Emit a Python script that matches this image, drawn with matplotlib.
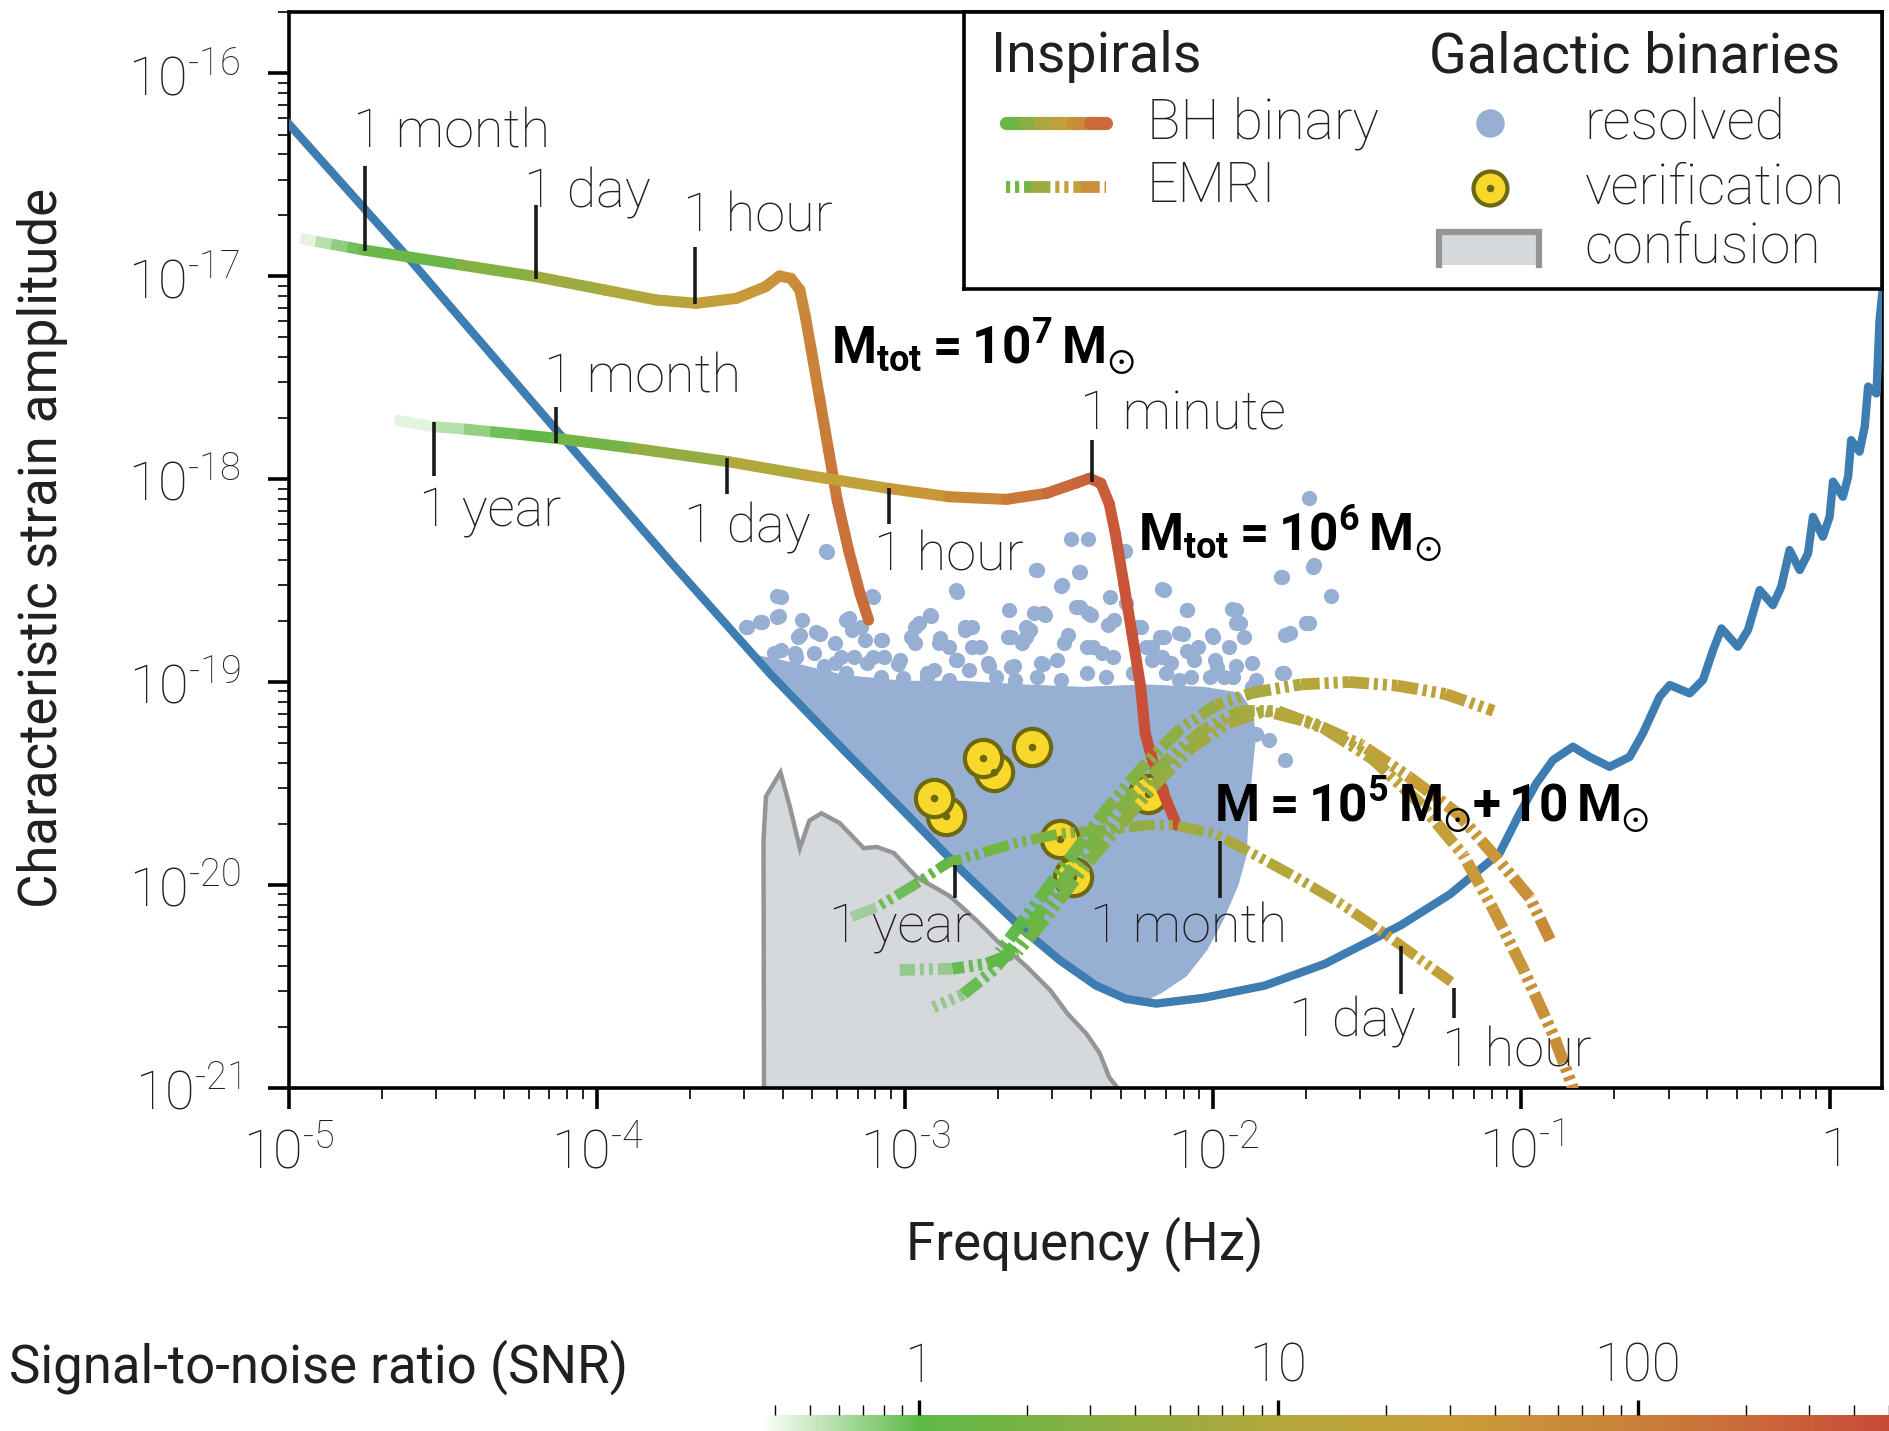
import numpy as np
import matplotlib
matplotlib.use("Agg")
import matplotlib.pyplot as plt
from matplotlib.collections import LineCollection
from matplotlib.colors import LinearSegmentedColormap, LogNorm, to_rgba
from matplotlib.cm import ScalarMappable
from matplotlib.ticker import LogLocator, NullFormatter
from matplotlib.patches import Rectangle

plt.rcParams['font.family'] = ['Roboto', 'DejaVu Sans']
plt.rcParams['mathtext.fontset'] = 'custom'
plt.rcParams['mathtext.rm'] = 'Roboto:light'
plt.rcParams['mathtext.bf'] = 'Roboto:bold'
plt.rcParams['mathtext.fallback'] = 'stixsans'
plt.rcParams['lines.scale_dashes'] = False
plt.rcParams['axes.unicode_minus'] = False

# ---------------- data (log10 of frequency [Hz] and characteristic strain) ----------------
noise_lf = [-5.000, -4.609, -4.132, -3.749, -3.436, -3.202, -2.967, -2.811, -2.615, -2.498,
            -2.381, -2.283, -2.185, -2.029, -1.833, -1.638, -1.392, -1.231, -1.071, -1.006,
            -0.952, -0.898, -0.833, -0.779, -0.714, -0.649, -0.606, -0.552, -0.519, -0.454,
            -0.411, -0.378, -0.351, -0.298, -0.265, -0.227, -0.184, -0.157, -0.130, -0.097,
            -0.070, -0.054, -0.022, 0.000, 0.011, 0.043, 0.060, 0.070, 0.097, 0.114,
            0.125, 0.152, 0.162, 0.180]
noise_lh = [-16.250, -16.915, -17.758, -18.429, -18.963, -19.331, -19.694, -19.937, -20.222, -20.371,
            -20.495, -20.561, -20.584, -20.555, -20.495, -20.388, -20.198, -20.044, -19.842, -19.647,
            -19.499, -19.384, -19.318, -19.368, -19.417, -19.368, -19.252, -19.072, -19.014, -19.055,
            -18.989, -18.841, -18.735, -18.825, -18.743, -18.546, -18.620, -18.530, -18.349, -18.447,
            -18.365, -18.185, -18.283, -18.185, -18.012, -18.086, -17.988, -17.807, -17.864, -17.741,
            -17.543, -17.577, -17.215, -16.950]

# dense part of the resolved galactic binaries
cloud_lf = [-3.495, -3.397, -3.202, -3.006, -2.811, -2.615, -2.420, -2.224, -2.029, -1.912,
            -1.873, -1.861, -1.873, -1.884, -1.892, -1.919, -1.970, -2.021, -2.087, -2.166,
            -2.224, -2.283, -2.381, -2.498, -2.615, -2.811, -2.967, -3.202, -3.436]
cloud_lh = [-18.862, -18.892, -18.963, -18.993, -18.993, -19.011, -19.023, -19.011, -19.023, -19.052,
            -19.141, -19.260, -19.438, -19.616, -19.854, -20.002, -20.181, -20.323, -20.450, -20.530,
            -20.575, -20.561, -20.495, -20.371, -20.222, -19.937, -19.694, -19.331, -18.963]

# individual resolved binaries around the dense part
dots_lf = [-3.256, -3.417, -3.108, -2.834, -2.576, -2.435, -2.494, -2.463, -2.408, -2.287,
           -2.166, -1.779, -1.673, -1.618, -1.700, -1.767, -2.087, -1.939, -1.927, -2.005,
           -2.099, -2.173, -2.248, -2.342, -2.408, -2.447, -2.553, -2.662, -2.596, -2.607,
           -2.666, -2.807, -2.916, -2.967, -2.889, -2.967, -3.077, -3.143, -3.182, -3.276,
           -3.342, -3.409, -3.464, -3.518, -3.425, -3.358, -3.264, -3.209, -3.104, -3.022,
           -2.928, -2.834, -2.783, -2.729, -2.646, -2.553, -2.486, -2.392, -2.326, -2.220,
           -2.166, -2.087, -1.994, -1.927, -1.966, -2.072, -2.154, -1.873, -1.771, -1.861,
           -1.818, -1.767, -1.900, -1.689,
           -3.515, -3.471, -3.415, -3.403, -3.335, -3.347, -3.291, -3.229, -3.192, -3.173,
           -3.130, -3.080, -3.403, -3.353, -3.297, -3.229, -3.167, -3.123, -3.068, -3.018,
           -2.981, -2.956, -2.919, -2.888, -2.857, -2.807, -2.782, -2.757, -2.832, -2.906,
           -2.794, -2.732, -2.658, -2.608, -2.583, -2.546, -2.620, -2.658, -2.558, -2.509,
           -2.471, -2.434, -2.397, -2.409, -2.360, -2.322, -2.335, -2.285, -2.235, -2.198,
           -2.161, -2.111, -2.086, -2.049, -2.000, -1.950, -1.925, -1.900, -1.913, -1.987,
           -2.062, -2.136, -2.198, -1.875, -1.776, -1.751, -1.689, -1.776, -2.161, -1.677,
           -2.490, -2.434, -2.571, -2.832, -3.254, -3.105, -3.440, -3.378, -3.316, -3.254,
           -3.192, -3.080, -3.006, -2.931, -2.857, -2.707, -2.645, -2.571, -2.496, -2.409,
           -2.347, -2.260, -2.111, -2.012, -1.937, -1.863]
dots_lh = [-18.352, -18.577, -18.577, -18.548, -18.447, -18.459, -18.524, -18.292, -18.292, -18.352,
           -18.542, -18.482, -18.423, -18.577, -18.708, -18.767, -18.643, -18.637, -18.708, -18.767,
           -18.761, -18.779, -18.726, -18.720, -18.660, -18.631, -18.660, -18.643, -18.744, -18.779,
           -18.779, -18.726, -18.672, -18.726, -18.809, -18.809, -18.791, -18.726, -18.684, -18.761,
           -18.767, -18.672, -18.702, -18.726, -18.856, -18.856, -18.922, -18.874, -18.874, -18.910,
           -18.957, -18.892, -18.827, -18.922, -18.922, -18.910, -18.809, -18.827, -18.874, -18.827,
           -18.874, -18.844, -18.892, -18.922, -18.975, -18.975, -18.957, -19.023, -18.957, -19.254,
           -19.284, -19.385, -19.355, -18.090,
           -18.727, -18.702, -18.677, -18.579, -18.694, -18.776, -18.751, -18.809, -18.694, -18.743,
           -18.792, -18.792, -18.842, -18.874, -18.858, -18.907, -18.874, -18.907, -18.874, -18.891,
           -18.776, -18.710, -18.669, -18.784, -18.825, -18.743, -18.727, -18.825, -18.891, -18.940,
           -18.940, -18.907, -18.776, -18.727, -18.661, -18.669, -18.809, -18.924, -18.907, -18.891,
           -18.768, -18.628, -18.669, -18.825, -18.858, -18.694, -18.579, -18.611, -18.727, -18.825,
           -18.776, -18.759, -18.644, -18.825, -18.776, -18.825, -18.644, -18.776, -18.710, -18.924,
           -18.891, -18.907, -18.891, -18.907, -18.957, -18.759, -18.710, -18.480, -18.546, -18.431,
           -18.521, -18.455, -18.447, -18.554, -18.357, -18.579, -18.924, -18.957, -18.989, -18.973,
           -18.957, -18.973, -18.981, -18.973, -18.989, -18.973, -18.989, -18.973, -18.989, -18.957,
           -18.973, -18.957, -18.989, -18.973, -18.973, -18.989]

# verification binaries (drawn in this order)
verif_lf = [-2.869, -2.908, -2.713, -2.748, -2.588, -2.498, -2.455, -2.213]
verif_lh = [-19.658, -19.569, -19.444, -19.373, -19.320, -19.771, -19.961, -19.551]

# unresolved galactic confusion foreground
conf_lf = [-3.458, -3.460, -3.452, -3.405, -3.374, -3.342, -3.311, -3.272, -3.213, -3.135,
           -3.092, -3.037, -2.963, -2.908, -2.854, -2.768, -2.693, -2.607, -2.529, -2.474,
           -2.412, -2.369, -2.338, -2.314, -2.300]
conf_lh = [-21.300, -19.777, -19.563, -19.444, -19.616, -19.818, -19.682, -19.646, -19.694, -19.818,
           -19.812, -19.842, -19.961, -20.008, -20.056, -20.175, -20.287, -20.400, -20.519, -20.632,
           -20.733, -20.828, -20.947, -20.994, -21.300]

# massive black hole binaries, M_tot = 1e7 and 1e6 Msun, with accumulated SNR
bh7_lf = [-4.963, -4.914, -4.863, -4.812, -4.758, -4.441, -4.199, -3.976, -3.808, -3.678,
          -3.547, -3.454, -3.408, -3.371, -3.342, -3.324, -3.305, -3.277, -3.249, -3.221,
          -3.184, -3.147, -3.119]
bh7_lh = [-16.812, -16.827, -16.841, -16.855, -16.870, -16.944, -17.001, -17.067, -17.116, -17.133,
          -17.108, -17.051, -16.998, -17.010, -17.067, -17.199, -17.363, -17.609, -17.856, -18.102,
          -18.349, -18.562, -18.694]
bh7_snr = [0.38, 0.5, 0.65, 0.82, 1.0, 2.0, 4, 7, 11, 18,
           28, 40, 50, 56, 62, 70, 85, 100, 120, 140,
           160, 180, 200]

bh6_lf = [-4.656, -4.535, -4.433, -4.348, -4.238, -4.134, -3.883, -3.575, -3.324, -3.054,
          -2.858, -2.672, -2.541, -2.448, -2.402, -2.365, -2.338, -2.318, -2.291, -2.264,
          -2.236, -2.221, -2.193, -2.166, -2.119]
bh6_lh = [-17.708, -17.740, -17.752, -17.765, -17.781, -17.798, -17.847, -17.913, -17.979, -18.045,
          -18.086, -18.099, -18.069, -18.020, -17.995, -18.020, -18.120, -18.268, -18.512, -18.761,
          -19.023, -19.254, -19.409, -19.533, -19.705]
bh6_snr = [0.37, 0.5, 0.65, 0.8, 1.0, 1.2, 2.5, 6, 13, 30,
           55, 100, 160, 220, 260, 290, 310, 330, 360, 390,
           410, 430, 440, 450, 460]

# extreme mass ratio inspirals, M = 1e5 + 10 Msun
emri1_lf = [-3.174, -3.092, -2.967, -2.862, -2.647, -2.498, -2.326, -2.221, -2.127, -1.994,
            -1.876, -1.732, -1.587, -1.443, -1.325, -1.228]
emri1_lh = [-20.157, -20.109, -19.996, -19.890, -19.795, -19.747, -19.723, -19.705, -19.705, -19.747,
            -19.842, -19.961, -20.091, -20.240, -20.371, -20.477]
emri1_snr = [0.45, 0.7, 1.1, 1.4, 2.0, 2.6, 3.4, 4.2, 5.2, 7, 9, 12, 15, 18, 21, 24]

emri2_lf = [-3.018, -2.846, -2.737, -2.635, -2.537, -2.420, -2.303, -2.185, -2.068, -1.951,
            -1.833, -1.677, -1.521, -1.364, -1.208, -1.071, -0.973, -0.907]
emri2_lh = [-20.418, -20.412, -20.388, -20.329, -20.151, -19.913, -19.705, -19.498, -19.319, -19.201,
            -19.141, -19.201, -19.308, -19.468, -19.646, -19.884, -20.062, -20.270]
emri2_snr = [0.5, 0.8, 1.1, 1.4, 1.8, 2.3, 3.0, 4.0, 5.5, 7, 9, 13, 18, 25, 35, 48, 60, 70]

emri3_lf = [-2.909, -2.811, -2.713, -2.615, -2.498, -2.381, -2.264, -2.146, -2.029, -1.912,
            -1.794, -1.638, -1.482, -1.325, -1.188, -1.091, -0.993, -0.895, -0.837, -0.817]
emri3_lh = [-20.602, -20.537, -20.418, -20.240, -20.002, -19.765, -19.557, -19.379, -19.230, -19.141,
            -19.141, -19.230, -19.379, -19.604, -19.854, -20.121, -20.418, -20.745, -20.982, -21.100]
emri3_snr = [0.5, 0.8, 1.0, 1.3, 1.7, 2.2, 3.0, 4.0, 5.0, 6.5, 8, 11, 15, 21, 29, 38, 48, 58, 65, 68]

emri4_lf = [-2.694, -2.576, -2.459, -2.342, -2.224, -2.107, -1.990, -1.873, -1.716, -1.560,
            -1.403, -1.247, -1.091]
emri4_lh = [-20.329, -20.091, -19.854, -19.616, -19.409, -19.230, -19.112, -19.052, -19.011, -18.999,
            -19.017, -19.058, -19.141]
emri4_snr = [0.8, 1.2, 1.7, 2.3, 3.0, 4.0, 5.5, 7, 10, 13, 17, 21, 25]

# time-to-merger marks
mark_lf = [-4.754, -4.199, -3.683, -4.531, -4.132, -3.577, -3.053, -2.393, -2.838, -1.978, -1.392, -1.220]
mark_lh0 = [-16.457, -16.647, -16.855, -17.716, -17.645, -17.894, -18.043, -17.805, -19.901, -19.783, -20.299, -20.507]
mark_lh1 = [-16.873, -17.015, -17.134, -17.983, -17.823, -18.072, -18.221, -18.013, -20.062, -20.062, -20.537, -20.656]
mark_text = ['1 month', '1 day', '1 hour', '1 year', '1 month', '1 day', '1 hour', '1 minute',
             '1 year', '1 month', '1 day', '1 hour']
mark_text_lf = [-4.793, -4.238, -3.722, -4.578, -4.171, -3.718, -3.100, -2.432, -3.249, -2.400, -1.755, -1.259]
mark_text_lh = [-16.291, -16.588, -16.707, -18.156, -17.502, -18.239, -18.375, -17.680, -20.210, -20.210, -20.673, -20.822]

mass_text = [r'$\mathbf{M}_{\mathbf{tot}}\mathbf{=10^{7}\,M}_{\odot}$',
             r'$\mathbf{M}_{\mathbf{tot}}\mathbf{=10^{6}\,M}_{\odot}$',
             r'$\mathbf{M=10^{5}\,M}_{\odot}\mathbf{+\,10\,M}_{\odot}$']
mass_lf = [-3.241, -2.244, -1.998]
mass_lh = [-17.348, -18.268, -19.604]

HY = '\u2010'
xtick_lf = [-5, -4, -3, -2, -1, 0]
xtick_labels = ['$10^{%s5}$' % HY, '$10^{%s4}$' % HY, '$10^{%s3}$' % HY,
                '$10^{%s2}$' % HY, '$10^{%s1}$' % HY, '$1$']
ytick_lh = [-21, -20, -19, -18, -17, -16]
ytick_labels = ['$10^{%s%d}$' % (HY, n) for n in (21, 20, 19, 18, 17, 16)]

snr_stops = [0.36, 1, 3.16, 10, 31.6, 100, 251, 500]
snr_colors = ['#5db94700', '#5db947', '#8aaf43', '#b3a73c', '#c99c38', '#c9803a', '#ca633a', '#c84a37']

# ---------------- styling ----------------
TXT = '#231f20'
NOISE = '#3d7db1'
GB = '#98afd4'

pos = (np.log10(snr_stops) - np.log10(snr_stops[0])) / (np.log10(snr_stops[-1]) - np.log10(snr_stops[0]))
cmap = LinearSegmentedColormap.from_list('snr', list(zip(pos, [to_rgba(c) for c in snr_colors])))
norm = LogNorm(snr_stops[0], snr_stops[-1])

E = lambda a: 10 ** np.asarray(a, dtype=float)

fig = plt.figure(figsize=(18.89, 14.31), dpi=100)
ax = fig.add_axes([0.15299, 0.23969, 0.8433, 0.75192])
ax.set_xscale('log')
ax.set_yscale('log')
ax.set_xlim(1e-5, 10 ** 0.17)
ax.set_ylim(1e-21, 10 ** -15.697)


def gradient_line(a, x, y, snr, lw, z):
    pts = np.column_stack([x, y])
    segs = np.stack([pts[:-1], pts[1:]], axis=1)
    snr = np.asarray(snr, dtype=float)
    mid = np.sqrt(snr[:-1] * snr[1:])
    faint = snr[:-1] < 1.0
    # faded start without round caps (no overlapping dots), the rest with round caps
    lc = LineCollection(segs[faint], colors=cmap(norm(mid[faint])), linewidths=lw,
                        capstyle='butt', zorder=z)
    a.add_collection(lc)
    lc = LineCollection(segs[~faint], colors=cmap(norm(mid[~faint])), linewidths=lw,
                        capstyle='round', zorder=z)
    a.add_collection(lc)


PATTERN = (19, 3.5, 3, 3.5, 3, 3.5)


def gradient_dashes(a, x, y, snr, lw, z, start=0.0):
    # dashed line whose colour follows the SNR; the dash phase runs on across pieces
    pix = a.transData.transform(np.column_stack([x, y]))
    seg = np.hypot(*np.diff(pix, axis=0).T) * 72.0 / fig.dpi
    snr = np.asarray(snr, dtype=float)
    off = start
    period = sum(PATTERN)
    for i in range(len(x) - 1):
        c = cmap(norm(np.sqrt(snr[i] * snr[i + 1])))
        a.plot(x[i:i + 2], y[i:i + 2], color=c, lw=lw, linestyle=(off % period, PATTERN),
               dash_capstyle='butt', zorder=z)
        off += seg[i]


# confusion foreground
ax.fill(E(conf_lf), E(conf_lh), facecolor='#d5d9dc', edgecolor='#959598', lw=3.2, zorder=1)

# resolved galactic binaries
ax.fill(E(cloud_lf), E(cloud_lh), color=GB, lw=0, zorder=2)
ax.scatter(E(dots_lf), E(dots_lh), s=120, color=GB, lw=0, zorder=2)

# verification binaries
for lf, lh in zip(verif_lf, verif_lh):
    ax.scatter(10 ** lf, 10 ** lh, s=720, facecolor='#f7d82b', edgecolor='#6d6812', lw=3, zorder=3)
ax.scatter(E(verif_lf), E(verif_lh), s=30, color='#6d6812', lw=0, zorder=3)

# LISA sensitivity
ax.plot(E(noise_lf), E(noise_lh), color=NOISE, lw=6, solid_joinstyle='round', zorder=4)

# black hole binaries
gradient_line(ax, E(bh7_lf), E(bh7_lh), bh7_snr, 8, 5)
gradient_line(ax, E(bh6_lf), E(bh6_lh), bh6_snr, 8, 5)

# EMRIs
gradient_dashes(ax, E(emri1_lf), E(emri1_lh), emri1_snr, 7.5, 6)
gradient_dashes(ax, E(emri2_lf), E(emri2_lh), emri2_snr, 8.5, 6, start=8)
gradient_dashes(ax, E(emri3_lf), E(emri3_lh), emri3_snr, 8.5, 6, start=16)
gradient_dashes(ax, E(emri4_lf), E(emri4_lh), emri4_snr, 8.5, 6, start=24)

# time marks
for lf, h0, h1 in zip(mark_lf, mark_lh0, mark_lh1):
    ax.plot([10 ** lf, 10 ** lf], [10 ** h0, 10 ** h1], color='#1a1a1a', lw=2.6,
            solid_capstyle='butt', zorder=7)
for t, lf, lh in zip(mark_text, mark_text_lf, mark_text_lh):
    ax.text(10 ** lf, 10 ** lh, t, ha='left', va='center', fontsize=39, fontweight='light',
            color=TXT, zorder=8)
for t, lf, lh in zip(mass_text, mass_lf, mass_lh):
    ax.text(10 ** lf, 10 ** lh, t, ha='left', va='center', fontsize=37, color='black', zorder=8)

# axes
ax.set_xticks(E(xtick_lf), xtick_labels)
ax.set_yticks(E(ytick_lh), ytick_labels)
ax.xaxis.set_minor_locator(LogLocator(base=10, subs=np.arange(2, 10), numticks=30))
ax.yaxis.set_minor_locator(LogLocator(base=10, subs=np.arange(2, 10), numticks=30))
ax.xaxis.set_minor_formatter(NullFormatter())
ax.yaxis.set_minor_formatter(NullFormatter())
ax.tick_params(which='major', direction='out', length=15, width=2.6, labelsize=39,
               labelcolor=TXT)
ax.tick_params(axis='x', which='major', pad=12)
ax.tick_params(axis='y', which='major', pad=20)
ax.tick_params(which='minor', direction='out', length=8, width=1.2)
for s in ax.spines.values():
    s.set_linewidth(2.6)

fig.text(0.0223, 0.617, 'Characteristic strain amplitude', rotation=90, ha='center', va='center',
         fontsize=38, color=TXT)
fig.text(0.574, 0.1305, 'Frequency (Hz)', ha='center', va='center', fontsize=38, color=TXT)
fig.text(0.005, 0.0446, 'Signal-to-noise ratio (SNR)', ha='left', va='center', fontsize=38, color=TXT)

# legend box
lax = fig.add_axes([0.5103, 0.79804, 0.48599, 0.19357])
lax.set_xlim(0, 1)
lax.set_ylim(0, 1)
lax.set_xticks([])
lax.set_yticks([])
for s in lax.spines.values():
    s.set_linewidth(2.6)
lax.text(0.029, 0.839, 'Inspirals', ha='left', va='center', fontsize=40, color=TXT)
lax.text(0.507, 0.839, 'Galactic binaries', ha='left', va='center', fontsize=40, color=TXT)
leg_u = np.linspace(0.046, 0.155, 7)
gradient_line(lax, leg_u, np.full(7, 0.6), [1, 2, 5, 12, 35, 100, 350], 9.5, 3)
gradient_dashes(lax, np.linspace(0.046, 0.155, 5), np.full(5, 0.37), [1, 3, 10, 30, 100], 8.5, 3,
                start=22.5)
lax.text(0.199, 0.6, 'BH binary', ha='left', va='center', fontsize=40, fontweight='light', color=TXT)
lax.text(0.199, 0.37, 'EMRI', ha='left', va='center', fontsize=40, fontweight='light', color=TXT)
lax.scatter([0.573], [0.6], s=420, color=GB, lw=0)
lax.scatter([0.573], [0.365], s=600, facecolor='#f7d82b', edgecolor='#6d6812', lw=3)
lax.scatter([0.573], [0.365], s=30, color='#6d6812', lw=0)
lax.add_patch(Rectangle((0.518, 0.087), 0.108, 0.117, facecolor='#d5d9dc', lw=0))
lax.plot([0.518, 0.518, 0.626, 0.626], [0.087, 0.204, 0.204, 0.087], color='#959598', lw=4.5,
         solid_joinstyle='miter')
lax.text(0.676, 0.6, 'resolved', ha='left', va='center', fontsize=40, fontweight='light', color=TXT)
lax.text(0.676, 0.365, 'verification', ha='left', va='center', fontsize=40, fontweight='light', color=TXT)
lax.text(0.676, 0.152, 'confusion', ha='left', va='center', fontsize=40, fontweight='light', color=TXT)

# SNR colour bar
cax = fig.add_axes([0.4018, 0.0, 0.5982, 0.0112])
cb = fig.colorbar(ScalarMappable(norm=norm, cmap=cmap), cax=cax, orientation='horizontal')
cb.outline.set_visible(False)
cb.set_ticks([1, 10, 100], labels=['1', '10', '100'])
cax.xaxis.set_ticks_position('top')
cax.xaxis.set_minor_locator(LogLocator(base=10, subs=np.arange(2, 10), numticks=30))
cax.xaxis.set_minor_formatter(NullFormatter())
cax.tick_params(which='major', direction='out', length=11, width=2.4, pad=5, labelsize=38,
                labelcolor=TXT, top=True, bottom=False, labeltop=True, labelbottom=False)
cax.tick_params(which='minor', direction='out', length=7, width=1, top=True, bottom=False)
for t in cax.get_xticklabels():
    t.set_fontweight('light')

fig.savefig('out.png', dpi=100)
